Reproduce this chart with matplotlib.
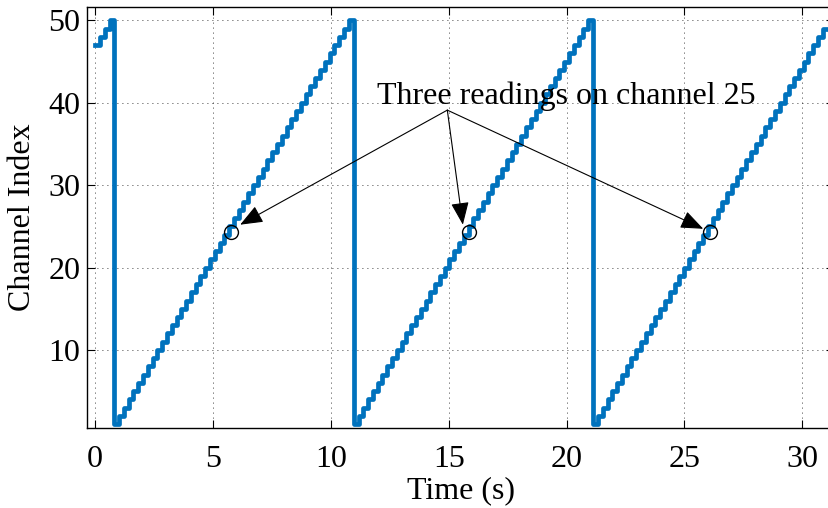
import numpy as np
import matplotlib
matplotlib.use("Agg")
import matplotlib.pyplot as plt

# channel hopping sweep (staircase)
first_sweep_channels = [47, 48, 49, 50]
sweep_channels = list(range(1, 51))
last_sweep_channels = list(range(1, 50))
dwell = 0.203                      # seconds spent on each channel
sweep_starts = [0.81, 10.97, 21.13]

# the three readings on channel 25 (marked with circles)
reading_times = [5.77, 15.85, 26.1]
reading_channel = [24.3, 24.3, 24.3]
note_text = "Three readings on channel 25"
note_pos = (20.0, 40.8)
arrow_tail = (14.94, 39.1)
arrow_heads = [(6.15, 25.2), (15.6, 25.2), (25.8, 24.7)]

# build step series
t = []
ch = []
for i, c in enumerate(first_sweep_channels):
    t.append(i * dwell)
    ch.append(c)
for k, s in enumerate(sweep_starts):
    chans = last_sweep_channels if k == len(sweep_starts) - 1 else sweep_channels
    for i, c in enumerate(chans):
        t.append(s + i * dwell)
        ch.append(c)
t.append(t[-1] + dwell)
ch.append(ch[-1])

plt.rcParams['font.family'] = ['Liberation Serif', 'DejaVu Serif']

fig = plt.figure(figsize=(8.29, 5.08), dpi=100)
ax = fig.add_axes([0.1055, 0.157, 0.9, 0.829])

ax.plot(t, ch, drawstyle='steps-post', color='#0072BD', lw=3.4,
        solid_joinstyle='round')
ax.plot(reading_times, reading_channel, 'o', mfc='none', mec='black',
        ms=10, mew=1.0)

ax.text(note_pos[0], note_pos[1], note_text, fontsize=23,
        ha='center', va='center')
for head in arrow_heads:
    ax.annotate('', xy=head, xytext=arrow_tail,
                arrowprops=dict(arrowstyle='-|>,head_length=0.7,head_width=0.28',
                                color='black', lw=0.8, shrinkA=0, shrinkB=0,
                                mutation_scale=20))

ax.set_xlim(-0.33, 31.33)
ax.set_ylim(0.5, 51.6)
ax.set_xticks([0, 5, 10, 15, 20, 25, 30])
ax.set_yticks([10, 20, 30, 40, 50])
ax.grid(True, linestyle=(0, (1, 5)), color='black', lw=0.6)
ax.tick_params(direction='in', top=True, right=True, length=6,
               labelsize=23, width=0.8)
ax.tick_params(axis='x', pad=12)
ax.tick_params(axis='y', pad=5)
for sp in ax.spines.values():
    sp.set_linewidth(1.0)
ax.spines['right'].set_visible(False)

ax.set_xlabel('Time (s)', fontsize=23, labelpad=2)
ax.set_ylabel('Channel Index', fontsize=23, labelpad=8)

fig.savefig('out.png', dpi=100)
